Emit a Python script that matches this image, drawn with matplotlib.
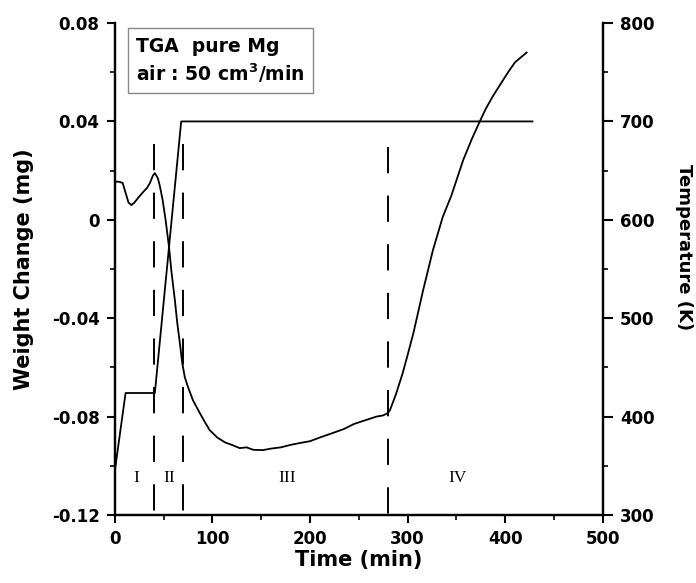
import matplotlib
matplotlib.use("Agg")
from matplotlib import pyplot as plt
from matplotlib.ticker import MultipleLocator

plt.rcParams['font.family'] = ['DejaVu Sans']
plt.rcParams['font.weight'] = 'bold'

# weight change curve (left axis)
t_w = [0, 4, 8, 11, 14, 17, 20, 24, 29, 33, 36, 39, 41, 44, 46, 49, 52, 55.5, 58,
       61.5, 64, 66.6, 69, 71.7, 75, 80, 87, 92, 97, 105, 113, 120, 128, 135, 142,
       152, 160, 170, 180, 190, 200, 210, 223, 235, 245, 258, 268, 275, 280, 282,
       288, 295, 300, 306, 316, 326, 336, 345, 357, 366, 374, 380, 387, 395, 403,
       410, 416, 422]
w = [0.0155, 0.0155, 0.015, 0.011, 0.007, 0.006, 0.007, 0.009, 0.0113, 0.013,
     0.015, 0.018, 0.019, 0.017, 0.014, 0.008, 0.000, -0.011, -0.021,
     -0.0326, -0.042, -0.050, -0.058, -0.064, -0.068, -0.0733, -0.0785, -0.082,
     -0.0854, -0.0885, -0.0905, -0.0915, -0.0928, -0.0925, -0.0935, -0.0936,
     -0.093, -0.0925, -0.0915, -0.0907, -0.090, -0.0885, -0.0867, -0.085, -0.083,
     -0.0813, -0.080, -0.0795, -0.0785, -0.0773, -0.071, -0.0623, -0.055, -0.046,
     -0.0285, -0.0123, 0.0011, 0.010, 0.0243, 0.033, 0.040, 0.045, 0.050, 0.055,
     0.060, 0.064, 0.066, 0.068]

# temperature program (right axis)
t_T = [0, 11, 41, 68, 428]
T = [345, 424, 424, 700, 700]

# stage boundaries and labels
t_bounds = [40, 70, 280]
bound_top = [0.031, 0.031, 0.0296]
stage_x = [21.5, 56, 177, 351]
stage_txt = ['I', 'II', 'III', 'IV']

fig = plt.figure(figsize=(6.96, 5.83), dpi=100)
ax = fig.add_axes([0.165, 0.1166, 0.701, 0.8439])
ax2 = ax.twinx()

ax.plot(t_w, w, color='k', lw=1.3)
ax2.plot(t_T, T, color='k', lw=1.3)

for tb, top in zip(t_bounds, bound_top):
    ax.plot([tb, tb], [top, -0.12], color='k', lw=1.4, dashes=(13.5, 11.5))

for sx, st in zip(stage_x, stage_txt):
    ax.text(sx, -0.105, st, ha='center', va='center', fontsize=12.5,
            family='Liberation Serif', fontweight='normal')

ax.text(22, 0.0745, 'TGA  pure Mg\nair : 50 cm$^\\mathbf{3}$/min', fontsize=13.5,
        fontweight='bold', va='top', ha='left', linespacing=1.3,
        bbox=dict(boxstyle='square,pad=0.45', fc='white', ec='#888888', lw=1))

ax.set_xlim(0, 500)
ax.set_ylim(-0.12, 0.08)
ax2.set_ylim(300, 800)

ax.set_xticks([0, 100, 200, 300, 400, 500])
ax.set_yticks([-0.12, -0.08, -0.04, 0, 0.04, 0.08])
ax.set_yticklabels(['-0.12', '-0.08', '-0.04', '0', '0.04', '0.08'])
ax.xaxis.set_minor_locator(MultipleLocator(50))
ax.yaxis.set_minor_locator(MultipleLocator(0.02))
ax2.set_yticks([300, 400, 500, 600, 700, 800])
ax2.yaxis.set_minor_locator(MultipleLocator(50))

for a in (ax, ax2):
    a.spines['top'].set_visible(False)
    for s in a.spines.values():
        s.set_linewidth(1.6)
    a.tick_params(which='major', direction='out', length=6, width=1.5,
                  labelsize=12, pad=5)
    a.tick_params(which='minor', direction='out', length=3.5, width=1.2)
    for lab in a.get_xticklabels() + a.get_yticklabels():
        lab.set_fontweight('bold')
ax.xaxis.set_ticks_position('bottom')
ax2.tick_params(which='major', length=7.5)

ax.set_xlabel('Time (min)', fontsize=15, fontweight='bold', labelpad=1)
ax.set_ylabel('Weight Change (mg)', fontsize=15, fontweight='bold', labelpad=13)
ax2.set_ylabel('Temperature (K)', fontsize=13, fontweight='bold', rotation=-90,
               labelpad=27)
ax2.yaxis.set_label_coords(1.185, 0.545)

fig.savefig('out.png', dpi=100)
